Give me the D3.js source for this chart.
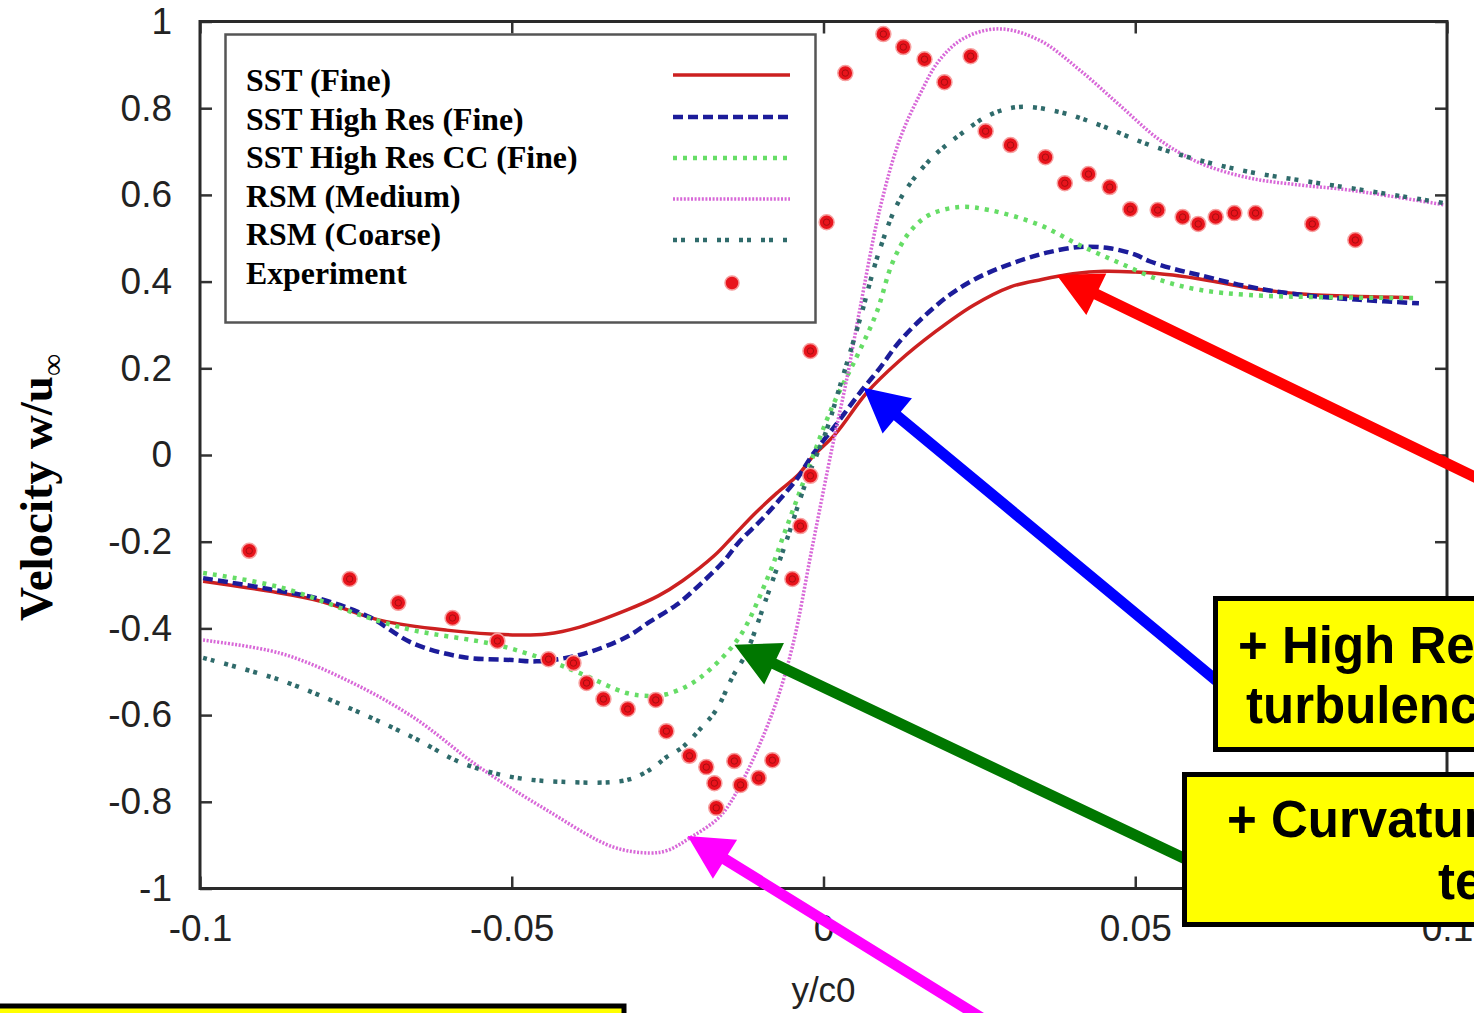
<!DOCTYPE html>
<html>
<head>
<meta charset="utf-8">
<script src="https://cdn.jsdelivr.net/npm/d3@7"></script>
<style>
  body { margin: 0; background: #fff; }
  svg { display: block; }
  .axis .tick text { font-family: "Liberation Sans", Arial, sans-serif; font-size: 37px; fill: #222; }
  .axis .tick line { stroke: #333; stroke-width: 2.5; }
  .legend text { font-family: "Liberation Serif", "Times New Roman", serif; font-weight: bold; font-size: 31.8px; fill: #000; }
  .note text { font-family: "Liberation Sans", Arial, sans-serif; font-weight: bold; font-size: 51px; fill: #000; }
</style>
</head>
<body>
<div id="chart"></div>
<script>
// ---- data ----
const xTicks = [-0.1, -0.05, 0, 0.05, 0.1];
const xTickLabels = ["-0.1", "-0.05", "0", "0.05", "0.1"];
const yTicks = [1, 0.8, 0.6, 0.4, 0.2, 0, -0.2, -0.4, -0.6, -0.8, -1];
const yTickLabels = ["1", "0.8", "0.6", "0.4", "0.2", "0", "-0.2", "-0.4", "-0.6", "-0.8", "-1"];

const seriesNames = ["SST (Fine)", "SST High Res (Fine)", "SST High Res CC (Fine)", "RSM (Medium)", "RSM (Coarse)", "Experiment"];

const sstFine = [[-0.0995,-0.291],[-0.089,-0.314],[-0.0805,-0.338],[-0.0712,-0.381],[-0.0605,-0.404],[-0.0499,-0.415],[-0.0444,-0.413],[-0.0391,-0.397],[-0.0316,-0.358],[-0.0265,-0.325],[-0.0226,-0.290],[-0.0175,-0.232],[-0.0146,-0.189],[-0.0110,-0.135],[-0.0075,-0.088],[-0.004,-0.045],[-0.0018,-0.005],[0.002,0.050],[0.0069,0.143],[0.012,0.215],[0.018,0.285],[0.024,0.345],[0.030,0.388],[0.035,0.405],[0.040,0.418],[0.045,0.424],[0.050,0.422],[0.056,0.415],[0.062,0.402],[0.068,0.386],[0.076,0.372],[0.085,0.366],[0.0945,0.363]];

const sstHighRes = [[-0.0995,-0.284],[-0.089,-0.309],[-0.080,-0.335],[-0.0728,-0.374],[-0.0659,-0.434],[-0.0579,-0.466],[-0.0499,-0.473],[-0.046,-0.476],[-0.0391,-0.461],[-0.0316,-0.420],[-0.0279,-0.385],[-0.0235,-0.345],[-0.0199,-0.300],[-0.016,-0.245],[-0.0135,-0.200],[-0.010,-0.150],[-0.0071,-0.104],[-0.004,-0.050],[-0.0018,0.0],[0.002,0.070],[0.0058,0.143],[0.009,0.200],[0.0122,0.262],[0.016,0.318],[0.0202,0.369],[0.0242,0.405],[0.0282,0.431],[0.0325,0.453],[0.0362,0.468],[0.0411,0.480],[0.0459,0.477],[0.050,0.462],[0.0523,0.447],[0.056,0.430],[0.0603,0.415],[0.0683,0.388],[0.0763,0.370],[0.086,0.358],[0.0955,0.350]];

const sstHighResCC = [[-0.0995,-0.272],[-0.0872,-0.305],[-0.0733,-0.374],[-0.0659,-0.404],[-0.0524,-0.438],[-0.0444,-0.473],[-0.0391,-0.503],[-0.0316,-0.549],[-0.0279,-0.556],[-0.0252,-0.552],[-0.0215,-0.530],[-0.0183,-0.496],[-0.0135,-0.420],[-0.0091,-0.288],[-0.0059,-0.166],[-0.0027,-0.042],[0.0014,0.111],[0.0053,0.226],[0.0085,0.328],[0.0111,0.445],[0.0138,0.514],[0.017,0.554],[0.0218,0.572],[0.0266,0.565],[0.0346,0.531],[0.0411,0.484],[0.0475,0.443],[0.0539,0.404],[0.0603,0.381],[0.0683,0.369],[0.080,0.364],[0.0955,0.362]];

const rsmMedium = [[-0.0995,-0.427],[-0.0872,-0.457],[-0.0765,-0.519],[-0.0659,-0.604],[-0.0552,-0.720],[-0.0444,-0.819],[-0.0338,-0.904],[-0.0279,-0.918],[-0.025,-0.912],[-0.0215,-0.884],[-0.0167,-0.835],[-0.0135,-0.766],[-0.0082,-0.595],[-0.005,-0.443],[-0.0018,-0.212],[0.0014,0.018],[0.0037,0.173],[0.0058,0.334],[0.009,0.565],[0.0122,0.727],[0.0154,0.830],[0.0186,0.911],[0.0226,0.962],[0.0282,0.983],[0.0346,0.957],[0.0411,0.888],[0.0475,0.807],[0.0539,0.727],[0.0603,0.674],[0.0683,0.639],[0.0763,0.623],[0.0844,0.611],[0.0996,0.577]];

const rsmCoarse = [[-0.0995,-0.468],[-0.0872,-0.519],[-0.0765,-0.581],[-0.0659,-0.651],[-0.0579,-0.711],[-0.0499,-0.743],[-0.0419,-0.754],[-0.0316,-0.750],[-0.0274,-0.722],[-0.0252,-0.697],[-0.0226,-0.674],[-0.0199,-0.634],[-0.0172,-0.588],[-0.0146,-0.512],[-0.0124,-0.457],[-0.0091,-0.328],[-0.0059,-0.196],[-0.0027,-0.058],[0.0005,0.058],[0.0026,0.157],[0.0058,0.311],[0.009,0.473],[0.0122,0.588],[0.017,0.680],[0.0218,0.738],[0.0266,0.784],[0.0314,0.803],[0.0379,0.791],[0.0443,0.761],[0.0523,0.715],[0.0603,0.680],[0.0683,0.653],[0.0763,0.634],[0.0844,0.616],[0.0996,0.581]];

const experiment = [[-0.0921,-0.221],[-0.0760,-0.286],[-0.0682,-0.341],[-0.0595,-0.376],[-0.0523,-0.429],[-0.0441,-0.471],[-0.0401,-0.480],[-0.0380,-0.526],[-0.0353,-0.563],[-0.0314,-0.586],[-0.0269,-0.565],[-0.0252,-0.637],[-0.0215,-0.694],[-0.0188,-0.720],[-0.0175,-0.757],[-0.0172,-0.814],[-0.0143,-0.706],[-0.0133,-0.761],[-0.0104,-0.745],[-0.0082,-0.704],[-0.0050,-0.286],[-0.0037,-0.164],[-0.0021,-0.048],[-0.0021,0.240],[0.0005,0.537],[0.0035,0.881],[0.0096,0.971],[0.0128,0.941],[0.0162,0.913],[0.0194,0.860],[0.0236,0.920],[0.0260,0.747],[0.0300,0.715],[0.0356,0.687],[0.0387,0.627],[0.0425,0.648],[0.0459,0.618],[0.0492,0.567],[0.0536,0.565],[0.0576,0.549],[0.0601,0.533],[0.0629,0.549],[0.0659,0.558],[0.0693,0.558],[0.0784,0.533],[0.0853,0.496]];

// annotation arrows: tip / tail in data units
const arrowTips  = [[0.0374, 0.415], [0.0064, 0.155], [-0.0143, -0.438], [-0.0218, -0.879]];
const arrowTails = [[0.1055, -0.058], [0.0630, -0.520], [0.0585, -0.935], [0.0300, -1.340]];
const arrowColors = ["#ff0000", "#0000ff", "#007700", "#ff00ff"];

// ---- layout ----
const W = 1474, H = 1013;
const x = d3.scaleLinear().domain([-0.1, 0.1]).range([200, 1447]);
const y = d3.scaleLinear().domain([-1, 1]).range([888.5, 21.5]);

const svg = d3.select("#chart").append("svg").attr("width", W).attr("height", H);

const styles = [
  { data: sstFine,      color: "#cc2020", width: 3.5, dash: null },
  { data: sstHighRes,   color: "#1c1c9a", width: 4.5, dash: "10,5" },
  { data: sstHighResCC, color: "#66dd66", width: 4.5, dash: "4,6" },
  { data: rsmMedium,    color: "#d868d8", width: 3.5, dash: "2,1.6" },
  { data: rsmCoarse,    color: "#2f6b6b", width: 4.5, dash: "4,4,4,10" }
];

// axes (ticks point inward)
svg.append("g").attr("class", "axis")
  .attr("transform", `translate(${x(-0.1)},0)`)
  .call(d3.axisLeft(y).tickValues(yTicks).tickSize(-12).tickSizeOuter(0).tickPadding(28)
    .tickFormat((d, i) => yTickLabels[i]))
  .call(g => g.select(".domain").remove());

svg.append("g").attr("class", "axis")
  .attr("transform", `translate(0,${y(-1)})`)
  .call(d3.axisBottom(x).tickValues(xTicks).tickSize(-12).tickSizeOuter(0).tickPadding(26)
    .tickFormat((d, i) => xTickLabels[i]))
  .call(g => g.select(".domain").remove());

svg.append("g").attr("class", "axis")
  .attr("transform", `translate(${x(0.1)},0)`)
  .call(d3.axisRight(y).tickValues(yTicks).tickSize(-12).tickSizeOuter(0).tickFormat(""))
  .call(g => g.select(".domain").remove());

svg.append("g").attr("class", "axis")
  .attr("transform", `translate(0,${y(1)})`)
  .call(d3.axisTop(x).tickValues(xTicks).tickSize(-12).tickSizeOuter(0).tickFormat(""))
  .call(g => g.select(".domain").remove());

svg.append("rect")
  .attr("x", x(-0.1)).attr("y", y(1))
  .attr("width", x(0.1) - x(-0.1)).attr("height", y(-1) - y(1))
  .attr("fill", "none").attr("stroke", "#2a2a2a").attr("stroke-width", 3);

// legend box
const legend = svg.append("g").attr("class", "legend");
legend.append("rect")
  .attr("x", 225.5).attr("y", 34.5).attr("width", 590).attr("height", 288)
  .attr("fill", "#fff").attr("stroke", "#555").attr("stroke-width", 2.5);

const rowBase = [91, 130, 168, 207, 245, 284];
const sampleY = [75, 117, 158, 199, 240, 283];
seriesNames.forEach((name, i) => {
  legend.append("text").attr("x", 246).attr("y", rowBase[i]).text(name);
  if (i < styles.length) {
    legend.append("line")
      .attr("x1", 673).attr("x2", 790).attr("y1", sampleY[i]).attr("y2", sampleY[i])
      .attr("stroke", styles[i].color).attr("stroke-width", styles[i].width)
      .attr("stroke-dasharray", styles[i].dash);
  } else {
    legend.append("circle").attr("cx", 732).attr("cy", sampleY[i]).attr("r", 7)
      .attr("fill", "#e8141c").attr("stroke", "#f59a9a").attr("stroke-width", 1.5);
  }
});

// curves
const line = d3.line().x(d => x(d[0])).y(d => y(d[1])).curve(d3.curveCatmullRom.alpha(0.5));
svg.append("g").selectAll("path").data(styles).join("path")
  .attr("d", s => line(s.data))
  .attr("fill", "none")
  .attr("stroke", s => s.color)
  .attr("stroke-width", s => s.width)
  .attr("stroke-dasharray", s => s.dash)
  .attr("stroke-linejoin", "round");

// experiment markers
const pts = svg.append("g").selectAll("g").data(experiment).join("g")
  .attr("transform", d => `translate(${x(d[0])},${y(d[1])})`);
pts.append("circle").attr("r", 7.5).attr("fill", "#e8141c").attr("stroke", "#f7a0a0").attr("stroke-width", 1.5);
pts.append("circle").attr("r", 3.2).attr("fill", "none").attr("stroke", "#a80c10").attr("stroke-width", 1);

// axis titles
svg.append("text")
  .attr("x", x(0)).attr("y", 1002).attr("text-anchor", "middle")
  .style("font-family", "'Liberation Sans', Arial, sans-serif").style("font-size", "35px").style("fill", "#222")
  .text("y/c0");

const yt = svg.append("text")
  .attr("transform", "translate(52,621) rotate(-90)")
  .style("font-family", "'Liberation Serif', 'Times New Roman', serif")
  .style("font-weight", "bold").style("font-size", "47px");
yt.append("tspan").text("Velocity w/u");
yt.append("tspan").attr("dy", 11).style("font-size", "31px").style("font-weight", "normal").text("∞");

// arrows
function arrowPath(tail, tip) {
  const [x0, y0] = [x(tail[0]), y(tail[1])], [x1, y1] = [x(tip[0]), y(tip[1])];
  const len = Math.hypot(x0 - x1, y0 - y1);
  const ux = (x0 - x1) / len, uy = (y0 - y1) / len, px = -uy, py = ux;
  const hl = 44, hw = 23, sw = 5.5;
  const bx = x1 + ux * hl, by = y1 + uy * hl;
  const p = [
    [x1, y1],
    [bx + px * hw, by + py * hw],
    [bx + px * sw, by + py * sw],
    [x0 + px * sw, y0 + py * sw],
    [x0 - px * sw, y0 - py * sw],
    [bx - px * sw, by - py * sw],
    [bx - px * hw, by - py * hw]
  ];
  return "M" + p.map(q => q.join(",")).join("L") + "Z";
}
svg.append("g").selectAll("path").data(arrowTips).join("path")
  .attr("d", (d, i) => arrowPath(arrowTails[i], d))
  .attr("fill", (d, i) => arrowColors[i]);

// yellow note boxes (they run off the right edge, as in the original slide)
const note = svg.append("g").attr("class", "note");
note.append("rect").attr("x", 1215.5).attr("y", 598.5).attr("width", 300).attr("height", 151)
  .attr("fill", "#ffff00").attr("stroke", "#000").attr("stroke-width", 5);
note.append("text").attr("x", 1238).attr("y", 663).text("+ High Res");
note.append("text").attr("x", 1246).attr("y", 723).text("turbulence");

note.append("rect").attr("x", 1184.5).attr("y", 774.5).attr("width", 330).attr("height", 150)
  .attr("fill", "#ffff00").attr("stroke", "#000").attr("stroke-width", 5);
note.append("text").attr("x", 1227).attr("y", 837).text("+ Curvature");
note.append("text").attr("x", 1438).attr("y", 899).text("term");

note.append("rect").attr("x", -5).attr("y", 1006).attr("width", 629).attr("height", 60)
  .attr("fill", "#ffff00").attr("stroke", "#000").attr("stroke-width", 5);
</script>
</body>
</html>
